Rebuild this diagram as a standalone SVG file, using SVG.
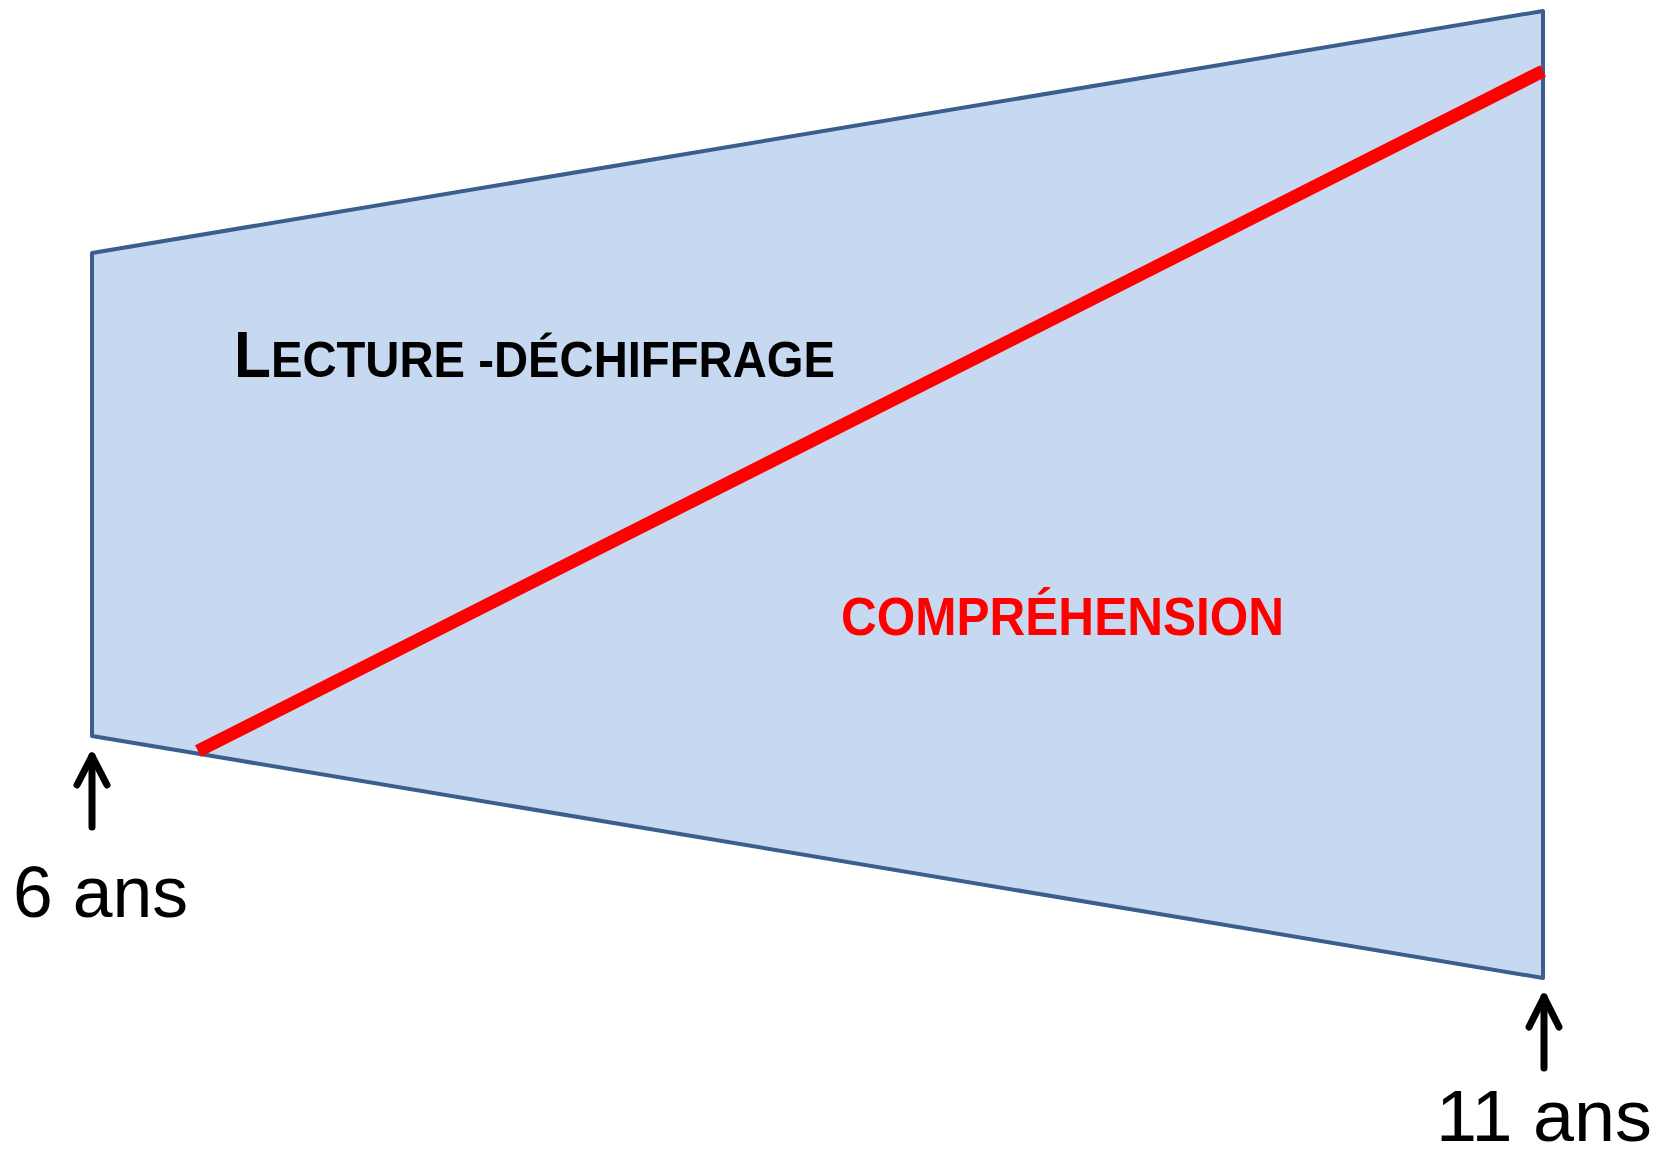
<svg xmlns="http://www.w3.org/2000/svg" width="1669" height="1150" viewBox="0 0 1669 1150">
  <style>
    .shape { fill: #C6D9F0; stroke: #3A5F8D; stroke-width: 4; stroke-linejoin: round; }
    .red { stroke: #FF0000; stroke-width: 13; stroke-linecap: butt; fill: none; }
    .arrow { stroke: #000000; stroke-width: 7; fill: none; stroke-linecap: round; stroke-linejoin: round; }
    .age { font-family: "Liberation Sans", Arial, sans-serif; font-size: 72px; fill: #000000; }
    .title { font-family: "Liberation Sans", Arial, sans-serif; font-weight: bold; }
  </style>
  <rect width="1669" height="1150" fill="#FFFFFF"/>
  <g id="trapeze">
    <polygon class="shape" points="92,253 1543,11 1543,978 92,736"/>
  </g>
  <g id="connectors">
    <line class="red" x1="198" y1="751" x2="1543" y2="71"/>
    <g id="arrow-6">
      <line class="arrow" x1="92" y1="827" x2="92" y2="756"/>
      <polyline class="arrow" points="77,785 92,756 107,785"/>
    </g>
    <g id="arrow-11">
      <line class="arrow" x1="1544" y1="1068" x2="1544" y2="997"/>
      <polyline class="arrow" points="1529,1027 1544,997 1559,1027"/>
    </g>
  </g>
  <g id="label-lecture">
    <text class="title" x="234" y="377" textLength="601" lengthAdjust="spacingAndGlyphs" fill="#000000"><tspan font-size="64">L</tspan><tspan font-size="50">ECTURE -DÉCHIFFRAGE</tspan></text>
  </g>
  <g id="label-comprehension">
    <text class="title" x="841" y="635" font-size="53.5" textLength="443" lengthAdjust="spacingAndGlyphs" fill="#FF0000">COMPRÉHENSION</text>
  </g>
  <g id="label-6ans">
    <text class="age" x="13" y="917" textLength="175" lengthAdjust="spacingAndGlyphs">6 ans</text>
  </g>
  <g id="label-11ans">
    <text class="age" x="1436" y="1141" textLength="216" lengthAdjust="spacingAndGlyphs">11 ans</text>
  </g>
</svg>
